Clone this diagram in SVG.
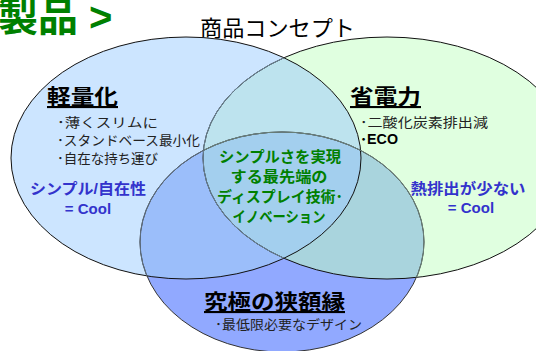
<svg xmlns="http://www.w3.org/2000/svg" width="536" height="351" viewBox="0 0 536 351">
<style>
text{font-family:"Liberation Sans","Noto Sans CJK JP",sans-serif}
.h{font-size:21px;font-weight:bold;fill:#000;text-decoration:underline}
.b{font-size:13px;fill:#222}
.bl{font-size:15px;font-weight:bold;fill:#3333CC}
.g{font-size:15px;font-weight:bold;fill:#008000}
.o{fill:none;stroke-width:1}
</style>
<defs>
<ellipse id="eL" cx="186" cy="158" rx="175" ry="121"/>
<ellipse id="eR" cx="387" cy="158" rx="184" ry="121"/>
<ellipse id="eB" cx="282" cy="242" rx="142" ry="110"/>
<clipPath id="cL"><use href="#eL"/></clipPath>
<clipPath id="cR"><use href="#eR"/></clipPath>
</defs>
<text x="-2" y="31" style="font-size:40px;font-weight:bold;fill:#008000">製品 &gt;</text>
<text x="200" y="36" style="font-size:22px;fill:#000" textLength="155" lengthAdjust="spacingAndGlyphs">商品コンセプト</text>
<g id="fills">
<use href="#eL" fill="#CCE5FF"/>
<use href="#eR" fill="#E0FFE0"/>
<use href="#eR" fill="#BDE3EE" clip-path="url(#cL)"/>
<use href="#eB" fill="#91A9FF"/>
<use href="#eB" fill="#9BBEFA" clip-path="url(#cL)"/>
<use href="#eB" fill="#A9D4DD" clip-path="url(#cR)"/>
<g clip-path="url(#cR)"><use href="#eB" fill="#A3CFEE" clip-path="url(#cL)"/></g>
</g>
<g id="outlines">
<use href="#eL" class="o" stroke="#111"/>
<use href="#eR" class="o" stroke="#111"/>
<use href="#eR" class="o" stroke="#6F8799" clip-path="url(#cL)"/>
<use href="#eB" class="o" stroke="#333"/>
<use href="#eB" class="o" stroke="#5F7080" clip-path="url(#cL)"/>
<use href="#eB" class="o" stroke="#6A8078" clip-path="url(#cR)"/>
</g>
<g id="node-light">
<text class="h" x="47" y="104" textLength="71" lengthAdjust="spacingAndGlyphs">軽量化</text>
<text class="b" x="57" y="127" textLength="101" lengthAdjust="spacingAndGlyphs">･薄くスリムに</text>
<text class="b" x="57" y="145" textLength="143" lengthAdjust="spacingAndGlyphs">･スタンドベース最小化</text>
<text class="b" x="57" y="163" textLength="101" lengthAdjust="spacingAndGlyphs">･自在な持ち運び</text>
<text class="bl" x="88" y="194" text-anchor="middle" textLength="116" lengthAdjust="spacingAndGlyphs">シンプル/自在性</text>
<text class="bl" x="88" y="214" text-anchor="middle">= Cool</text>
</g>
<g id="node-power">
<text class="h" x="350" y="104" textLength="71" lengthAdjust="spacingAndGlyphs">省電力</text>
<text class="b" x="360" y="127" textLength="128" lengthAdjust="spacingAndGlyphs">･二酸化炭素排出減</text>
<text x="360" y="144" style="font-size:14px;font-weight:bold;fill:#000" textLength="38" lengthAdjust="spacingAndGlyphs">･ECO</text>
<text class="bl" x="468" y="194" text-anchor="middle" textLength="115" lengthAdjust="spacingAndGlyphs">熱排出が少ない</text>
<text class="bl" x="471" y="213" text-anchor="middle">= Cool</text>
</g>
<g id="node-center">
<text class="g" x="280" y="162" text-anchor="middle" textLength="122" lengthAdjust="spacingAndGlyphs">シンプルさを実現</text>
<text class="g" x="279" y="182" text-anchor="middle" textLength="97" lengthAdjust="spacingAndGlyphs">する最先端の</text>
<text class="g" x="280" y="202" text-anchor="middle" textLength="126" lengthAdjust="spacingAndGlyphs">ディスプレイ技術･</text>
<text class="g" x="279" y="222" text-anchor="middle" textLength="93" lengthAdjust="spacingAndGlyphs">イノベーション</text>
</g>
<g id="node-bezel">
<text class="h" x="204" y="309" textLength="141" lengthAdjust="spacingAndGlyphs">究極の狭額縁</text>
<text class="b" x="215" y="329" textLength="147" lengthAdjust="spacingAndGlyphs">･最低限必要なデザイン</text>
</g>
</svg>
